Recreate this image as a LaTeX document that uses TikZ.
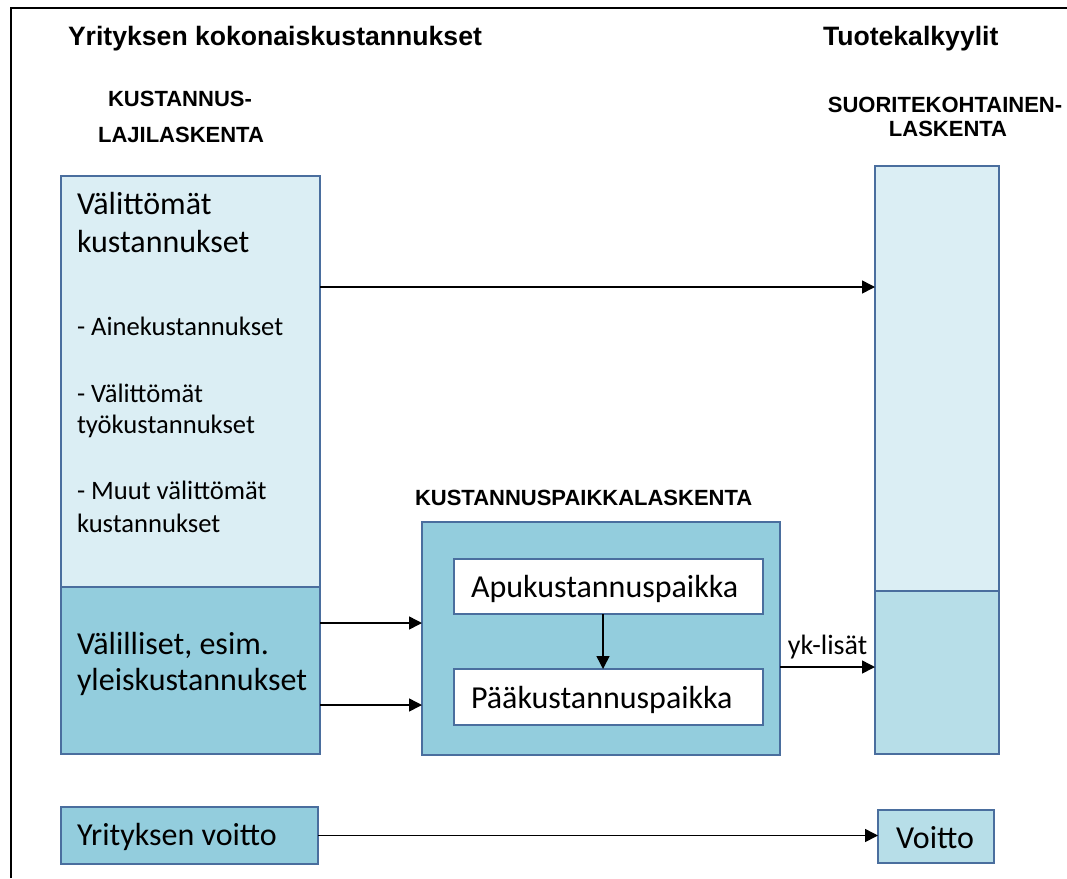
\documentclass[tikz,border=0pt]{standalone}
\usepackage{fontspec}
\setmainfont{Carlito}
\newfontfamily\headfont{Liberation Sans}
\usetikzlibrary{arrows.meta,calc}

\definecolor{paleaqua}{HTML}{DBEEF4}
\definecolor{deepaqua}{HTML}{93CDDD}
\definecolor{midaqua}{HTML}{B7DEE8}
\definecolor{boxline}{HTML}{4A6E9E}

\newcommand\fsBig{\fontsize{32}{38}\selectfont}
\newcommand\fsSmall{\fontsize{26.6}{31}\selectfont}
\newcommand\fsLabel{\fontsize{28}{32}\selectfont}
\newcommand\fsHead{\headfont\bfseries\fontsize{22}{24}\selectfont}
\newcommand\fsTitle{\headfont\bfseries\fontsize{26.6}{30}\selectfont}

\tikzset{
  panel/.style={draw=boxline, line width=1.4pt, rectangle, inner sep=0pt,
                outer sep=0pt, anchor=north west},
  txt/.style={anchor=base west, inner sep=0pt, outer sep=0pt},
  ctxt/.style={anchor=base, inner sep=0pt, outer sep=0pt},
  arr/.style={line width=1.5pt, -{Triangle[length=13pt,width=13pt]}},
}

\begin{document}
\begin{tikzpicture}[x=1pt,y=-1pt]
\useasboundingbox (0,0) rectangle (1067,878);

% page frame (top and left edges)
\draw[line width=2pt] (11,878) -- (11,8) -- (1067,8);

% headings
\node[txt, font=\fsTitle] (ttotal) at (68,45) {Yrityksen kokonaiskustannukset};
\node[txt, font=\fsTitle] (tprod) at (823,45) {Tuotekalkyylit};
\node[ctxt, font=\fsHead] (hkl1) at (180,106) {KUSTANNUS-};
\node[ctxt, font=\fsHead] (hkl2) at (181,142) {LAJILASKENTA};
\node[ctxt, font=\fsHead] (hsk1) at (945,112) {SUORITEKOHTAINEN-};
\node[ctxt, font=\fsHead] (hsk2) at (948,136) {LASKENTA};
\node[txt, font=\fsHead] (hkp) at (415,505) {KUSTANNUSPAIKKALASKENTA};

% cost type column
\node[panel, fill=paleaqua, minimum width=259pt, minimum height=411pt] (direct) at (61,176) {};
\node[panel, fill=deepaqua, minimum width=259pt, minimum height=167pt] (indirect) at (61,587) {};

% product column
\node[panel, fill=paleaqua, minimum width=124pt, minimum height=425pt] (prodtop) at (875,166) {};
\node[panel, fill=midaqua, minimum width=124pt, minimum height=163pt] (prodbot) at (875,591) {};

% cost centre block
\node[panel, fill=deepaqua, minimum width=358pt, minimum height=233pt] (centre) at (422,522) {};
\node[panel, fill=white, minimum width=309pt, minimum height=55pt] (aux) at (454,559) {};
\node[panel, fill=white, minimum width=309pt, minimum height=56pt] (main) at (454,669) {};

% profit boxes
\node[panel, fill=deepaqua, minimum width=257pt, minimum height=57pt] (profit) at (61,807) {};
\node[panel, fill=midaqua, minimum width=116pt, minimum height=53pt] (voitto) at (878,810) {};

% texts in the column boxes
\node[txt, font=\fsBig] (d1) at (77,214) {Välittömät};
\node[txt, font=\fsBig] (d2) at (77,252) {kustannukset};
\node[txt, font=\fsSmall] (d3) at (77,335) {- Ainekustannukset};
\node[txt, font=\fsSmall] (d4) at (77,402) {- Välittömät};
\node[txt, font=\fsSmall] (d5) at (77,433) {työkustannukset};
\node[txt, font=\fsSmall] (d6) at (77,499) {- Muut välittömät};
\node[txt, font=\fsSmall] (d7) at (77,532) {kustannukset};
\node[txt, font=\fsBig] (i1) at (77,654) {Välilliset, esim.};
\node[txt, font=\fsBig] (i2) at (77,690) {yleiskustannukset};
\node[txt, font=\fsBig] (auxt) at (471,597) {Apukustannuspaikka};
\node[txt, font=\fsBig] (maint) at (471,708) {Pääkustannuspaikka};
\node[txt, font=\fsBig] (profitt) at (77,845) {Yrityksen voitto};
\node[ctxt, font=\fsBig] (voittot) at (935,848) {Voitto};

% connectors
\draw[arr] ([yshift=94.5pt]direct.east) -- ([yshift=94.5pt]direct.east -| prodtop.west);
\draw[arr] ([yshift=47.5pt]indirect.east) -- ([yshift=47.5pt]indirect.east -| centre.west);
\draw[arr] ([yshift=-34.5pt]indirect.east) -- ([yshift=-34.5pt]indirect.east -| centre.west);
\draw[arr] ([xshift=-5.5pt]aux.south) -- ([xshift=-5.5pt]aux.south |- main.north);
\draw[arr] ([yshift=-28.5pt]centre.east) -- node[midway, ctxt, font=\fsLabel, yshift=13pt] (yk) {yk-lisät} ([yshift=-28.5pt]centre.east -| prodbot.west);
\draw[arr] (profit.east) -- (profit.east -| voitto.west);
\end{tikzpicture}
\end{document}
